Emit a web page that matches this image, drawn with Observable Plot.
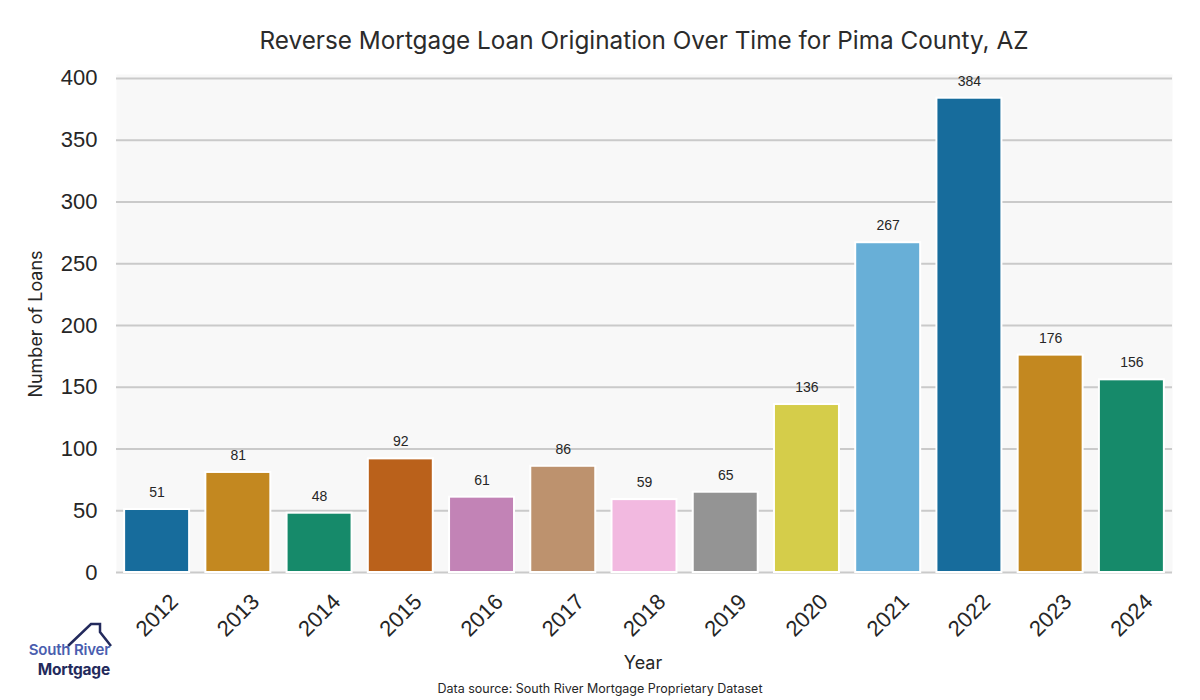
<!DOCTYPE html>
<html>
<head>
<meta charset="utf-8">
<script src="https://cdn.jsdelivr.net/npm/d3@7"></script>
<script src="https://cdn.jsdelivr.net/npm/@observablehq/plot@0.6"></script>
<style>
  html, body { margin: 0; padding: 0; background: #ffffff; }
  #wrap { position: relative; width: 1200px; height: 700px; overflow: hidden; }
  #chart { position: absolute; left: 0; top: 0; }
  .t { position: absolute; font-family: Inter, "Open Sans", sans-serif; color: #262626; white-space: nowrap; }
  #title { left: 644px; top: 40px; transform: translate(-50%, -50%); font-size: 24.3px; font-weight: 400; color: #2b2b2b; }
  #ylab { left: 35px; top: 324px; transform: translate(-50%, -50%) rotate(-90deg); font-size: 18px; }
  #xlab { left: 643px; top: 662px; transform: translate(-50%, -50%); font-size: 18px; }
  #caption { left: 600px; top: 688px; transform: translate(-50%, -50%); font-size: 12.5px; }
  #logo { position: absolute; left: 0; top: 610px; width: 130px; height: 80px; }
  #logo1 { position: absolute; right: 1090px; top: 643px; font-family: Inter, sans-serif; font-weight: 600; font-size: 15px; color: #4a5eaf; line-height: 14px; letter-spacing: -0.2px; }
  #logo2 { position: absolute; right: 1090px; top: 662px; font-family: Inter, sans-serif; font-weight: 700; font-size: 15.5px; color: #232a5c; line-height: 15px; letter-spacing: -0.2px; }
</style>
</head>
<body>
<div id="wrap">
  <div id="chart"></div>
  <div class="t" id="title">Reverse Mortgage Loan Origination Over Time for Pima County, AZ</div>
  <div class="t" id="ylab">Number of Loans</div>
  <div class="t" id="xlab">Year</div>
  <div class="t" id="caption">Data source: South River Mortgage Proprietary Dataset</div>
  <svg id="logo" viewBox="0 610 130 80" width="130" height="80">
    <polyline points="68,646 91,624 100,624 100,632 111,646" fill="none" stroke="#232a5c" stroke-width="2.5" stroke-linejoin="miter"/>
  </svg>
  <div id="logo1">South River</div>
  <div id="logo2">Mortgage</div>
</div>
<script>
const years = ["2012","2013","2014","2015","2016","2017","2018","2019","2020","2021","2022","2023","2024"];
const loans = [51, 81, 48, 92, 61, 86, 59, 65, 136, 267, 384, 176, 156];
const barColors = ["#176c9c","#c38820","#168a6a","#ba611b","#c283b6","#bd926e","#f2b9e0","#949494","#d5cd4a","#68afd7","#176c9c","#c38820","#168a6a"];
const yTicks = [0, 50, 100, 150, 200, 250, 300, 350, 400];

const data = years.map((y, i) => ({year: y, loans: loans[i], color: barColors[i]}));

const chart = Plot.plot({
  width: 1200,
  height: 700,
  marginLeft: 116,
  marginRight: 28,
  marginTop: 74,
  marginBottom: 128,
  style: {fontFamily: "'Liberation Sans', Arial, sans-serif", background: "transparent"},
  x: {domain: years, paddingInner: 0.2, paddingOuter: 0.1, round: false, label: null},
  y: {domain: [0, 403.2], label: null},
  marks: [
    Plot.frame({fill: "#f8f8f8", stroke: null}),
    Plot.gridY(yTicks, {stroke: "#cacaca", strokeOpacity: 1, strokeWidth: 2}),
    Plot.barY(data, {x: "year", y: "loans", fill: "color", stroke: "white", strokeWidth: 2}),
    Plot.text(data, {x: "year", y: "loans", text: d => String(d.loans), dy: -17, lineAnchor: "middle", fontSize: 14, fill: "#262626"}),
    Plot.axisY(yTicks, {tickSize: 0, tickPadding: 19, fontSize: 22, color: "#262626", label: null}),
    Plot.axisX({tickSize: 0, tickRotate: -45, textAnchor: "middle", lineAnchor: "middle", tickPadding: 43, fontSize: 22, color: "#262626", label: null})
  ]
});
document.getElementById("chart").appendChild(chart);
</script>
</body>
</html>
